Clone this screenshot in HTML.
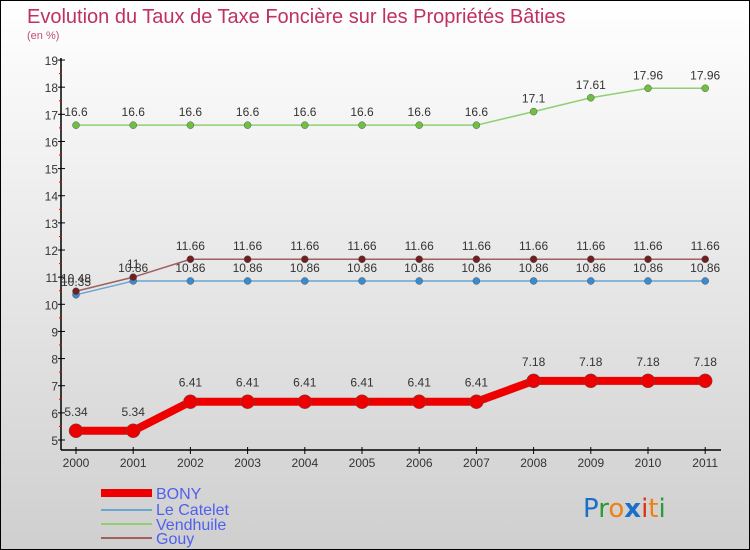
<!DOCTYPE html>
<html><head><meta charset="utf-8"><style>
html,body{margin:0;padding:0}
body{width:750px;height:550px;overflow:hidden;font-family:"Liberation Sans",sans-serif}
#wrap{position:relative;width:748px;height:548px;border:1px solid #000;background:linear-gradient(#ffffff,#cfcfcf)}
</style></head><body>
<div id="wrap">
<svg id="chart" width="748" height="548" style="position:absolute;left:0;top:0">
<text x="26" y="22" font-size="20" fill="#c03060">Evolution du Taux de Taxe Foncière sur les Propriétés Bâties</text>
<text x="26" y="38" font-size="11" fill="#c05070">(en %)</text>
<g id="axes"></g><g id="series"></g>
<g>
<line x1="100" y1="492" x2="151" y2="492" stroke="#e00" stroke-width="8"/>
<text x="155" y="498" font-size="16" fill="#5060ee">BONY</text>
<line x1="100" y1="509" x2="151" y2="509" stroke="#6aa6d0" stroke-width="2"/>
<text x="155" y="514" font-size="16" fill="#5060ee">Le Catelet</text>
<line x1="100" y1="523" x2="151" y2="523" stroke="#90d070" stroke-width="2"/>
<text x="155" y="529" font-size="16" fill="#5060ee">Vendhuile</text>
<line x1="100" y1="537" x2="151" y2="537" stroke="#a06060" stroke-width="2"/>
<text x="155" y="543" font-size="16" fill="#5060ee">Gouy</text>
</g>
<g font-size="26" font-family="DejaVu Sans,sans-serif">
<text x="582" y="516"><tspan fill="#1a70c8">P</tspan><tspan fill="#2a9a3a">r</tspan><tspan fill="#f08010">o</tspan><tspan fill="#1a70c8" font-weight="bold">x</tspan><tspan fill="#e03010">i</tspan><tspan fill="#f08010">t</tspan><tspan fill="#2a9a3a">i</tspan></text>
</g>
</svg>
</div>
<script>
const years=[2000,2001,2002,2003,2004,2005,2006,2007,2008,2009,2010,2011];
const yTicks=[5,6,7,8,9,10,11,12,13,14,15,16,17,18,19];
const bony=[5.34,5.34,6.41,6.41,6.41,6.41,6.41,6.41,7.18,7.18,7.18,7.18];
const leCatelet=[10.35,10.86,10.86,10.86,10.86,10.86,10.86,10.86,10.86,10.86,10.86,10.86];
const vendhuile=[16.6,16.6,16.6,16.6,16.6,16.6,16.6,16.6,17.1,17.61,17.96,17.96];
const gouy=[10.48,11,11.66,11.66,11.66,11.66,11.66,11.66,11.66,11.66,11.66,11.66];
const NS="http://www.w3.org/2000/svg";
const xs=i=>75+i*57.2;
const ys=v=>439-(v-5)*27.14;
function mk(tag,attrs,parent){const e=document.createElementNS(NS,tag);for(const k in attrs)e.setAttribute(k,attrs[k]);parent.appendChild(e);return e;}
const ax=document.getElementById('axes');
let yl=mk('line',{x1:60,y1:ys(19)-2,x2:60,y2:449,stroke:'#000','stroke-width':1.5},ax);


let xl=mk('line',{x1:60,y1:449,x2:720,y2:449,stroke:'#000','stroke-width':1.5},ax);


yTicks.forEach(v=>{
  mk('line',{x1:57,y1:ys(v),x2:64,y2:ys(v),stroke:'#000'},ax);
  if(v<19)mk('line',{x1:58,y1:ys(v+0.5),x2:61,y2:ys(v+0.5),stroke:'#e00'},ax);
  const t=mk('text',{x:57,y:ys(v)+5,'font-size':12,fill:'#333','text-anchor':'end'},ax);t.textContent=v;
  
  
});
years.forEach((y,i)=>{
  mk('line',{x1:xs(i),y1:446,x2:xs(i),y2:453,stroke:'#000'},ax);
  const t=mk('text',{x:xs(i),y:466,'font-size':12,fill:'#333','text-anchor':'middle'},ax);t.textContent=y;
  
  
});
const sg=document.getElementById('series');
function draw(vals,name,color,dot,w,r,lab){
  const g=mk('g',{},sg);
  
  
  const pl=mk('polyline',{points:vals.map((v,i)=>xs(i)+','+ys(v)).join(' '),fill:'none',stroke:color,'stroke-width':w,'stroke-linejoin':'round'},g);
  
  
  vals.forEach((v,i)=>{
    const c=mk('circle',{cx:xs(i),cy:ys(v),r:r,fill:dot,stroke:'#555','stroke-width':0.5},g);
    
    
    const t=mk('text',{x:xs(i),y:ys(v)-lab,'font-size':12,fill:'#333','text-anchor':'middle'},g);t.textContent=v;
    
    
  });
}
draw(vendhuile,'vendhuile','#90d070','#70c040',1.5,3.5,9);
draw(leCatelet,'le-catelet','#6aa6d0','#3a8ad0',1.5,3.5,9);
draw(gouy,'gouy','#a06060','#702020',1.5,3.5,9);
draw(bony,'bony','#ee0000','#ee0000',8,7,15);
</script>
</body></html>
